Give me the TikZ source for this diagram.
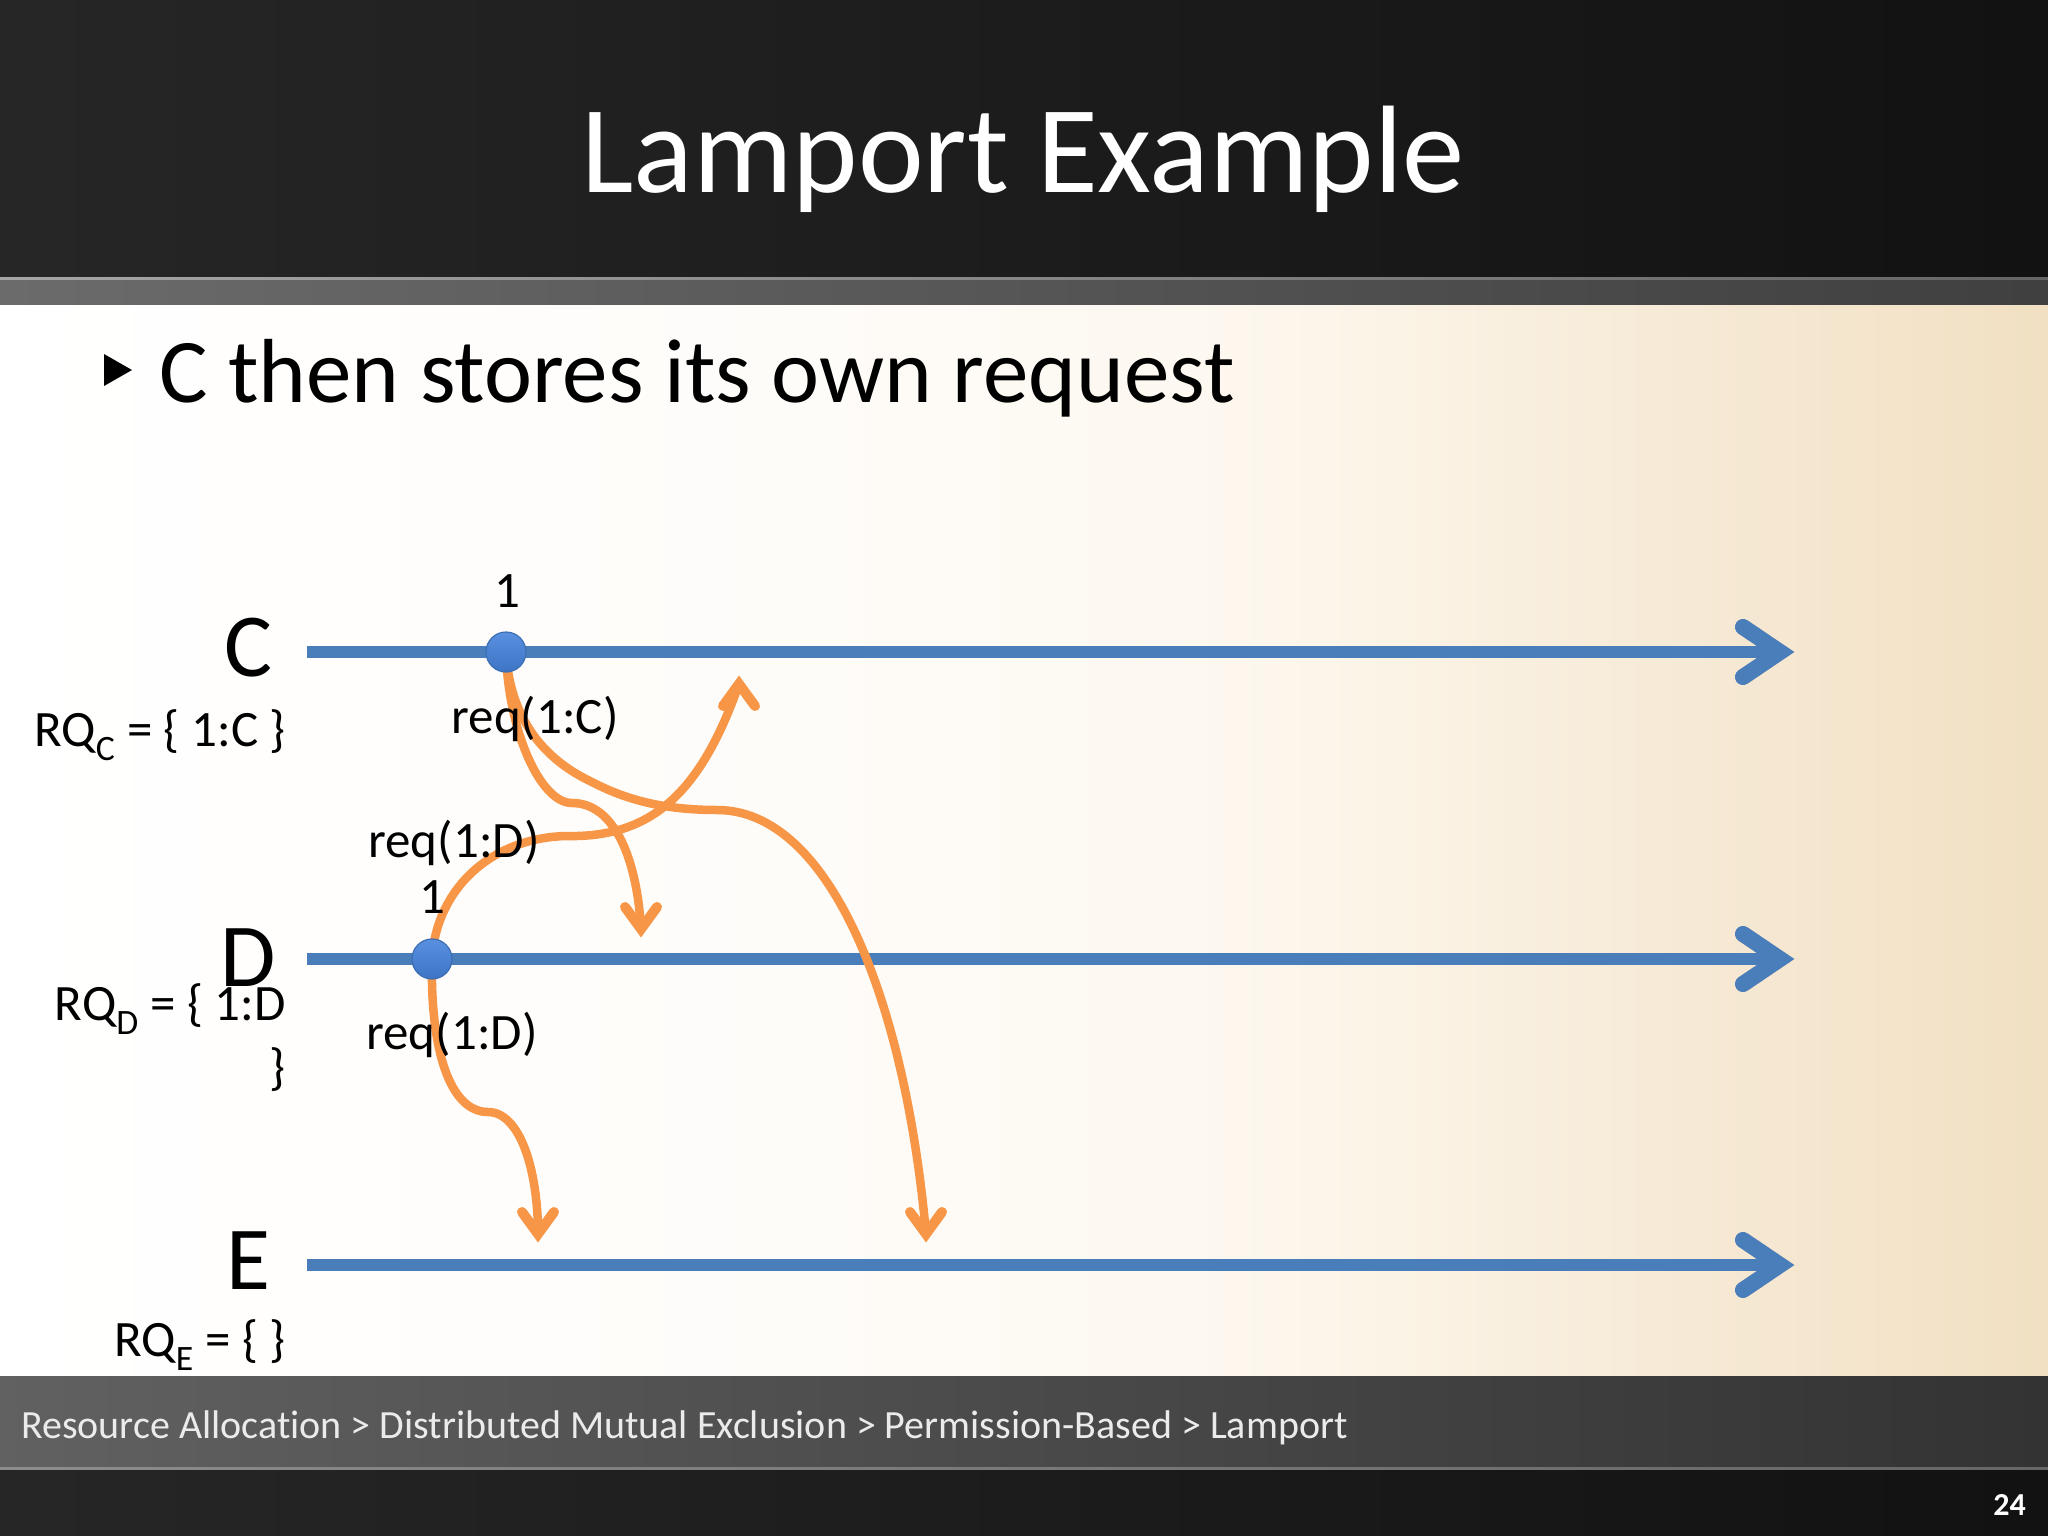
\documentclass[tikz,border=0pt]{standalone}
\usepackage{fontspec}
\setmainfont[Ligatures=NoCommon]{Carlito}
\usetikzlibrary{calc,shadings}
\definecolor{blueline}{HTML}{4A7EBB}
\definecolor{orangeline}{HTML}{F79646}
\definecolor{bgA}{HTML}{FFFFFF}
\definecolor{bgB}{HTML}{FEFCF9}
\definecolor{bgC}{HTML}{FDF8F0}
\definecolor{bgD}{HTML}{FBF3E5}
\definecolor{bgE}{HTML}{F6E9D5}
\definecolor{bgF}{HTML}{F1E0C2}
\definecolor{evtTop}{HTML}{5A90E0}
\definecolor{evtMid}{HTML}{78A8EC}
\definecolor{evtBot}{HTML}{3D74C4}
\definecolor{evtLine}{HTML}{3C6EB4}
\pgfdeclarehorizontalshading{creambg}{100bp}{
 color(0bp)=(bgA);
 color(25bp)=(bgA);
 color(44.5bp)=(bgB);
 color(54.3bp)=(bgC);
 color(59.2bp)=(bgD);
 color(66.5bp)=(bgE);
 color(75bp)=(bgF);
 color(100bp)=(bgF)}
\tikzset{
 x=1pt,y=-1pt,
 fs/.style={font=\fontsize{#1}{#1}\selectfont},
 timeline/.style={line width=12.5pt,draw=blueline},
 timehead/.style={line width=16pt,draw=blueline,line cap=round,miter limit=10},
 shadowline/.style={line width=12.5pt,draw=black!40,opacity=.6},
 msg/.style={line width=8.5pt,draw=orangeline},
 msghead/.style={line width=10pt,draw=orangeline,line cap=round,miter limit=10},
 evt/.style={circle,minimum size=40pt,inner sep=0pt,draw=evtLine,line width=1.2pt,top color=evtTop,middle color=evtMid,bottom color=evtBot},
 lbl/.style={fs=51,anchor=base,inner sep=0pt},
 rq/.style={fs=51,anchor=base east,inner sep=0pt},
 proc/.style={fs=90,anchor=base,inner sep=0pt},
}
\begin{document}
\begin{tikzpicture}
\useasboundingbox (0,0) rectangle (2048,1536);
\shade[left color=black!85,right color=black!93] (0,0) rectangle (2048,277);
\shade[left color=black!58,right color=black!75] (0,277) rectangle (2048,305);
\shade[left color=black!35,right color=black!60] (0,277) rectangle (2048,279);
\shade[shading=creambg] (0,305) rectangle (2048,1376);
\shade[left color=black!62,right color=black!80] (0,1376) rectangle (2048,1468);
\shade[left color=black!45,right color=black!60] (0,1467) rectangle (2048,1470);
\shade[left color=black!85,right color=black!93] (0,1470) rectangle (2048,1536);

\node[fs=124.5,text=white,anchor=base,inner sep=0pt] (title) at (1023,192) {Lamport Example};
\fill (104,354) -- (132,370) -- (104,386) -- cycle;
\node[fs=91,anchor=base west,inner sep=0pt] (bul) at (159,402) {C then stores its own request};

\coordinate (cS) at (307,652); \coordinate (cE) at (1780,652);
\coordinate (dS) at (307,959); \coordinate (dE) at (1780,959);
\coordinate (eS) at (307,1265); \coordinate (eE) at (1780,1265);
\foreach \a/\b in {cS/cE,dS/dE,eS/eE}{
 \draw[shadowline,yshift=-4pt] (\a) -- (\b);
 \draw[shadowline,yshift=-4pt,line width=16pt,line cap=round,miter limit=10] ($(\b)+(-37,-25)$) -- (\b) -- ($(\b)+(-37,25)$);
}
\foreach \a/\b in {cS/cE,dS/dE,eS/eE}{
 \draw[timeline] (\a) -- (\b);
 \draw[timehead] ($(\b)+(-37,-25)$) -- (\b) -- ($(\b)+(-37,25)$);
}
\coordinate (c1) at (506,652);
\coordinate (d1) at (432,959);
\coordinate (tipCD) at (641,929);
\coordinate (tipCE) at (926,1234);
\coordinate (tipDE) at (538,1234);
\coordinate (tipDC) at (739,684);
\draw[msg] (c1) .. controls (508,730) and (540,803) .. (572,803) .. controls (615,803) and (637,860) .. (tipCD);
\draw[msg] (c1) .. controls (510,720) and (545,760) .. (592,782) .. controls (630,802) and (670,810) .. (717,810) .. controls (830,810) and (905,1000) .. (tipCE);
\draw[msg] (d1) .. controls (436,890) and (490,838) .. (566,836) .. controls (650,838) and (700,795) .. (tipDC);
\draw[msg] (d1) .. controls (430,1050) and (450,1112) .. (488,1112) .. controls (520,1112) and (538,1170) .. (tipDE);
\foreach \t in {tipCD,tipCE,tipDE}{
 \draw[msghead] ($(\t)+(-16,-22)$) -- (\t) -- ($(\t)+(16,-22)$);
}
\draw[msghead] ($(tipDC)+(-16,22)$) -- (tipDC) -- ($(tipDC)+(16,22)$);
\node[evt] (evC) at (c1) {};
\node[evt] (evD) at (d1) {};

\node[proc] (pC) at (248,676) {C};
\node[proc] (pD) at (248,986) {D};
\node[proc] (pE) at (248,1289) {E};
\node[rq] (rqC) at (286,746) {RQ\textsubscript{C} = \{ 1:C \}};
\node[rq] (rqD) at (286,1020) {RQ\textsubscript{D} = \{ 1:D};
\node[rq] (rqDb) at (286,1084) {\}};
\node[rq] (rqE) at (286,1356) {RQ\textsubscript{E} = \{ \}};
\node[lbl] (nC) at (507,607) {1};
\node[lbl] (nD) at (432,913) {1};
\node[lbl] (rC) at (535,733) {req(1:C)};
\node[lbl] (rD) at (454,857) {req(1:D)};
\node[lbl] (rE) at (452,1049) {req(1:D)};
\node[fs=40,text=white!92!black,anchor=base west,inner sep=0pt] (foot) at (21,1438) {Resource Allocation > Distributed Mutual Exclusion > Permission-Based > Lamport};
\node[text=white,anchor=base east,inner sep=0pt,font=\fontsize{32}{32}\selectfont\bfseries] (pg) at (2026,1515) {24};
\end{tikzpicture}
\end{document}
